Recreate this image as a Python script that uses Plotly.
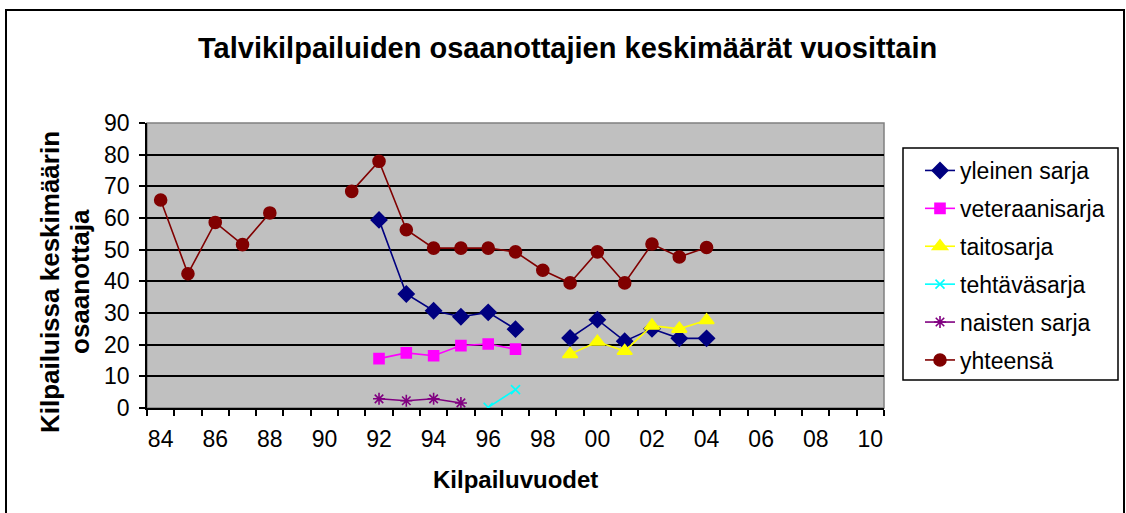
import plotly.graph_objects as go

years = list(range(1984, 2011))
tick_years = list(range(1984, 2011, 2))
tick_labels = [str(y)[2:] for y in tick_years]

yleinen = {1992: 59.4, 1993: 36.0, 1994: 30.7, 1995: 28.8, 1996: 30.2, 1997: 24.9,
           1999: 22.1, 2000: 27.9, 2001: 21.1, 2002: 25.0, 2003: 22.0, 2004: 22.0}
veteraani = {1992: 15.6, 1993: 17.4, 1994: 16.5, 1995: 19.7, 1996: 20.2, 1997: 18.6}
taito = {1999: 17.0, 2000: 20.9, 2001: 18.0, 2002: 26.0, 2003: 25.0, 2004: 27.7}
tehtava = {1996: 0.2, 1997: 5.8}
naisten = {1992: 2.9, 1993: 2.3, 1994: 2.9, 1995: 1.6}
yhteensa = {1984: 65.7, 1985: 42.4, 1986: 58.6, 1987: 51.6, 1988: 61.6, 1991: 68.4,
            1992: 77.9, 1993: 56.3, 1994: 50.5, 1995: 50.5, 1996: 50.5, 1997: 49.3,
            1998: 43.5, 1999: 39.5, 2000: 49.3, 2001: 39.5, 2002: 51.8, 2003: 47.7,
            2004: 50.7}

series = [
    ("yleinen sarja", yleinen, "#000080", "diamond", 12),
    ("veteraanisarja", veteraani, "#FF00FF", "square", 10),
    ("taitosarja", taito, "#FFFF00", "triangle-up", 13),
    ("tehtäväsarja", tehtava, "#00FFFF", "x-thin", 9),
    ("naisten sarja", naisten, "#800080", "asterisk", 10),
    ("yhteensä", yhteensa, "#800000", "circle", 12),
]

FONT = "Liberation Sans, Arial, sans-serif"


# page-pixel helpers (plot area spans x 147..884, y 123..408)
def px(x):
    return (x - 147) / 737


def py(y):
    return (408 - y) / 285


fig = go.Figure()
for i, (name, d, color, sym, size) in enumerate(series):
    fig.add_trace(go.Scatter(
        x=years, y=[d.get(y) for y in years], name=name, mode="lines+markers",
        connectgaps=False, legendgroup=f"g{i}",
        line=dict(color=color, width=1.6),
        marker=dict(symbol=sym, size=size, color=color,
                    line=dict(color=color, width=1.6)),
    ))

fig.update_layout(
    width=1126, height=513,
    margin=dict(l=147, r=242, t=123, b=105),
    paper_bgcolor="white", plot_bgcolor="#C0C0C0",
    font=dict(family=FONT, size=23, color="black"),
    showlegend=True,
    legend=dict(x=px(920), y=py(149), xanchor="left", yanchor="top",
                bgcolor="rgba(0,0,0,0)", borderwidth=0,
                font=dict(size=23), tracegroupgap=5,
                traceorder="grouped"),
    annotations=[
        dict(text="<b>Talvikilpailuiden osaanottajien keskimäärät vuosittain</b>",
             xref="paper", yref="paper", x=px(567), y=py(48),
             xanchor="center", yanchor="middle", showarrow=False,
             font=dict(size=29)),
        dict(text="<b>Kilpailuvuodet</b>", xref="paper", yref="paper",
             x=px(515), y=py(480),
             xanchor="center", yanchor="middle", showarrow=False,
             font=dict(size=24)),
        dict(text="<b>Kilpailuissa keskimäärin</b>", xref="paper",
             yref="paper", x=px(50), y=py(282),
             xanchor="center", yanchor="middle", showarrow=False, textangle=-90,
             font=dict(size=26)),
        dict(text="<b>osaanottaja</b>", xref="paper",
             yref="paper", x=px(80), y=py(282),
             xanchor="center", yanchor="middle", showarrow=False, textangle=-90,
             font=dict(size=26)),
    ],
    shapes=[
        dict(type="rect", xref="paper", yref="paper",
             x0=px(6), x1=px(1124), y0=py(516), y1=py(10),
             line=dict(color="black", width=2)),
        dict(type="rect", xref="paper", yref="paper", x0=0, x1=1, y0=0, y1=1,
             line=dict(color="#808080", width=1.5), layer="below"),
        dict(type="rect", xref="paper", yref="paper",
             x0=px(903), x1=px(1118), y0=py(380), y1=py(148),
             fillcolor="white", line=dict(color="black", width=1.5),
             layer="below"),
    ],
)

fig.update_xaxes(
    range=[1983.5, 2010.5], tickvals=tick_years, ticktext=tick_labels,
    ticks="", showgrid=False, zeroline=False,
    showline=True, linecolor="black", linewidth=1.5,
    tickfont=dict(size=23),
    minor=dict(tick0=1983.5, dtick=1, ticks="outside", ticklen=6,
               tickcolor="black", tickwidth=1.5, showgrid=False),
    ticklabelstandoff=10,
)
fig.update_yaxes(
    range=[0, 90], dtick=10, tick0=0, ticks="outside", ticklen=6,
    tickcolor="black", tickwidth=1.5,
    showgrid=True, gridcolor="black", gridwidth=1.5, zeroline=False,
    showline=True, linecolor="black", linewidth=1.5,
    tickfont=dict(size=23), ticklabelstandoff=5,
)

fig.write_html("out.html",
               config={"displayModeBar": False},
               post_script="document.body.style.margin='0';"
                           "document.body.style.overflow='hidden';")
